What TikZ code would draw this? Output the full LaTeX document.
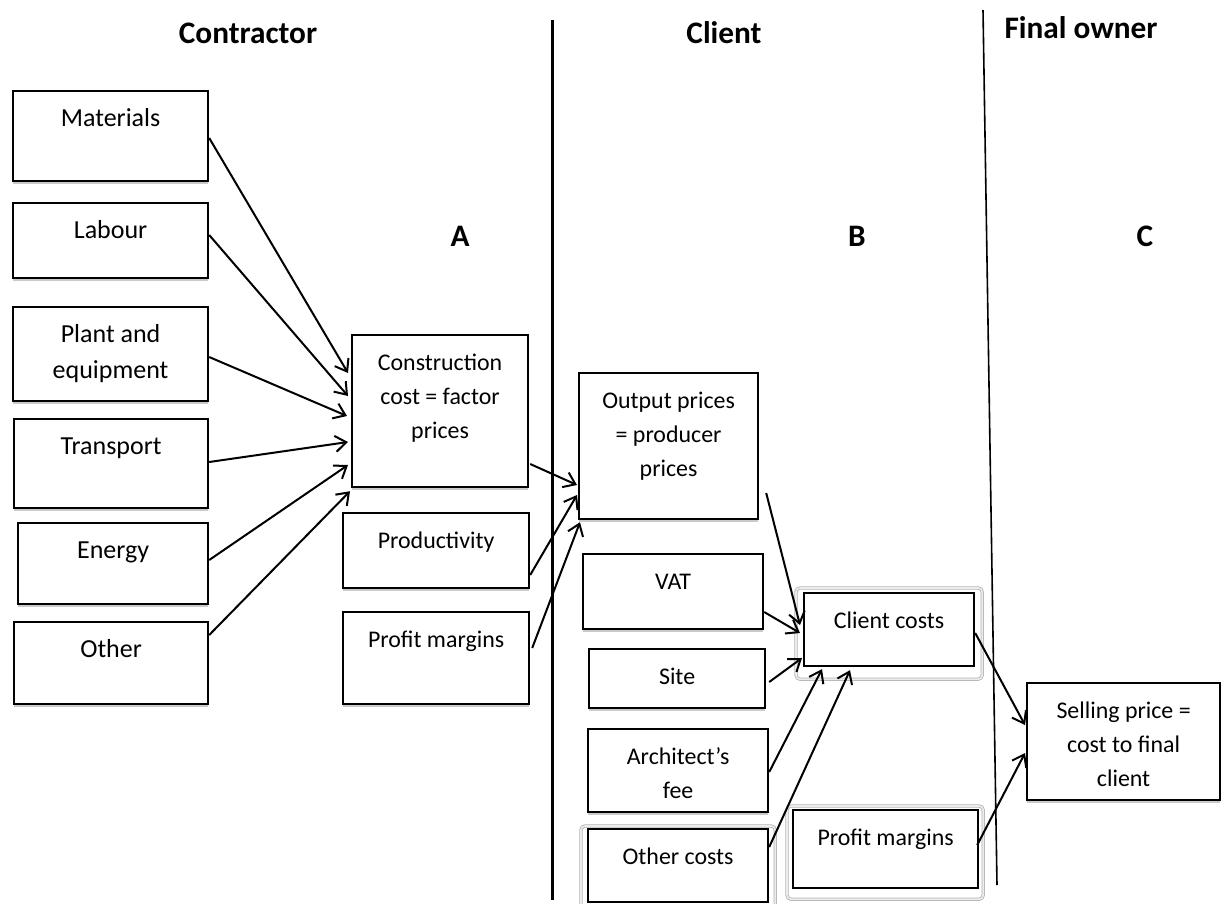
\documentclass[tikz,border=0pt]{standalone}
\usepackage{fontspec}
\setmainfont{Carlito}
\usetikzlibrary{arrows.meta,calc,shadows}
\newcommand\mybox[7][box]{\node[#1] (#2) at (#3,#4) {\parbox[c][#6pt][t]{#5pt}{\centering\rule{0pt}{35pt}#7\par}};}
\begin{document}
\begin{tikzpicture}[x=1pt,y=-1pt,
  plainbox/.style={draw, fill=white, line width=2.2pt, inner sep=0pt, anchor=north west,
    font=\fontsize{23.9}{34}\selectfont},
  box/.style={plainbox, drop shadow={shadow xshift=0pt, shadow yshift=-2.5pt, fill=gray!70, opacity=0.6}},
  bigbox/.style={box, font=\fontsize{26}{36}\selectfont},
  head/.style={font=\fontsize{31.3}{36}\selectfont\bfseries, inner sep=0pt, anchor=base},
  conn/.style={line width=2pt, -{Straight Barb[length=11pt,width=16pt]}},
  frame/.style={draw=gray!60, line width=0.8pt, double=gray!15, double distance=1.6pt, rounded corners=4pt},
]
\useasboundingbox (0,0) rectangle (1221,903);

% headings
\node[head] (hcon) at (248,43) {Contractor};
\node[head] (hcli) at (724,43) {Client};
\node[head] (hfin) at (1081,38) {Final owner};
\node[head] (la) at (460,246) {A};
\node[head] (lb) at (857,246) {B};
\node[head] (lc) at (1145,246) {C};

% dividers
\draw[line width=3pt] (552,20) -- (552,900);
\draw[line width=1.6pt] (983,10) -- (997,885);

% contractor column
\mybox[bigbox]{mat}{12}{90}{195}{90}{Materials}
\mybox[bigbox]{lab}{12}{202}{195}{75}{Labour}
\mybox[bigbox]{pla}{12}{306}{195}{94}{Plant and\\equipment}
\mybox[bigbox]{tra}{13}{418}{194}{89}{Transport}
\mybox[bigbox]{ene}{17}{522}{190}{81}{Energy}
\mybox[bigbox]{oth}{13}{621}{194}{82}{Other}

\mybox{con}{351}{334}{176}{152}{Construction\\cost = factor\\prices}
\mybox{pro}{342}{512}{186}{75}{Productivity}
\mybox{pmA}{342}{611}{186}{92}{Profit margins}

% client column
\mybox{out}{578}{372}{179}{146}{Output prices\\= producer\\prices}
\mybox{vat}{582}{553}{180}{75}{VAT}
\mybox[plainbox]{cc}{803}{592}{170}{73}{Client costs}
\mybox{site}{588}{648}{176}{59}{Site}
\mybox{arch}{587}{728}{180}{83}{Architect’s\\fee}
\mybox[plainbox]{ocost}{587}{828}{180}{73}{Other costs}
\mybox[plainbox]{pmB}{792}{809}{185}{78}{Profit margins}

% final owner
\mybox{sell}{1026}{682}{193}{117}{Selling price =\\cost to final\\client}

% frames
\draw[frame] ($(cc.north west)+(-7,-4)$) rectangle ($(cc.south east)+(7,12)$);
\draw[frame] ($(pmB.north west)+(-5,-3)$) rectangle ($(pmB.south east)+(4,10)$);
\draw[frame] ($(ocost.north west)+(-6,-2)$) rectangle ($(ocost.south east)+(6,8)$);

% connectors
\draw[conn] ($(mat.north east)+(0,48)$) -- ($(con.north west)+(-3,39)$);
\draw[conn] ($(lab.north east)+(0,33)$) -- ($(con.north west)+(-3,62)$);
\draw[conn] ($(pla.north east)+(0,51)$) -- ($(con.north west)+(-4,82)$);
\draw[conn] ($(tra.north east)+(0,44)$) -- ($(con.north west)+(-3,108)$);
\draw[conn] ($(ene.north east)+(0,38)$) -- ($(con.north west)+(-3,131)$);
\draw[conn] ($(oth.north east)+(0,14)$) -- ($(con.south west)+(-1,3)$);

\draw[conn] ($(con.north east)+(1,130)$) -- ($(out.north west)+(-1,113)$);
\draw[conn] ($(pro.north east)+(0,63)$) -- ($(out.north west)+(-1,123)$);
\draw[conn] ($(pmA.north east)+(2,37)$) -- ($(out.south west)+(2,2)$);

\draw[conn] ($(out.north east)+(7,121)$) -- ($(cc.north west)+(-3,33)$);
\draw[conn] ($(vat.north east)+(0,59)$) -- ($(cc.north west)+(-3,41)$);
\draw[conn] ($(site.north east)+(3,34)$) -- ($(cc.north west)+(-1,66)$);
\draw[conn] ($(arch.north east)+(0,44)$) -- ($(cc.south west)+(19,2)$);
\draw[conn] ($(ocost.north east)+(0,19)$) -- ($(cc.south west)+(47,3)$);

\draw[conn] ($(cc.north east)+(0,41)$) -- ($(sell.north west)+(-1,43)$);
\draw[conn] ($(pmB.north east)+(-2,36)$) -- ($(sell.north west)+(-1,71)$);
\end{tikzpicture}
\end{document}
